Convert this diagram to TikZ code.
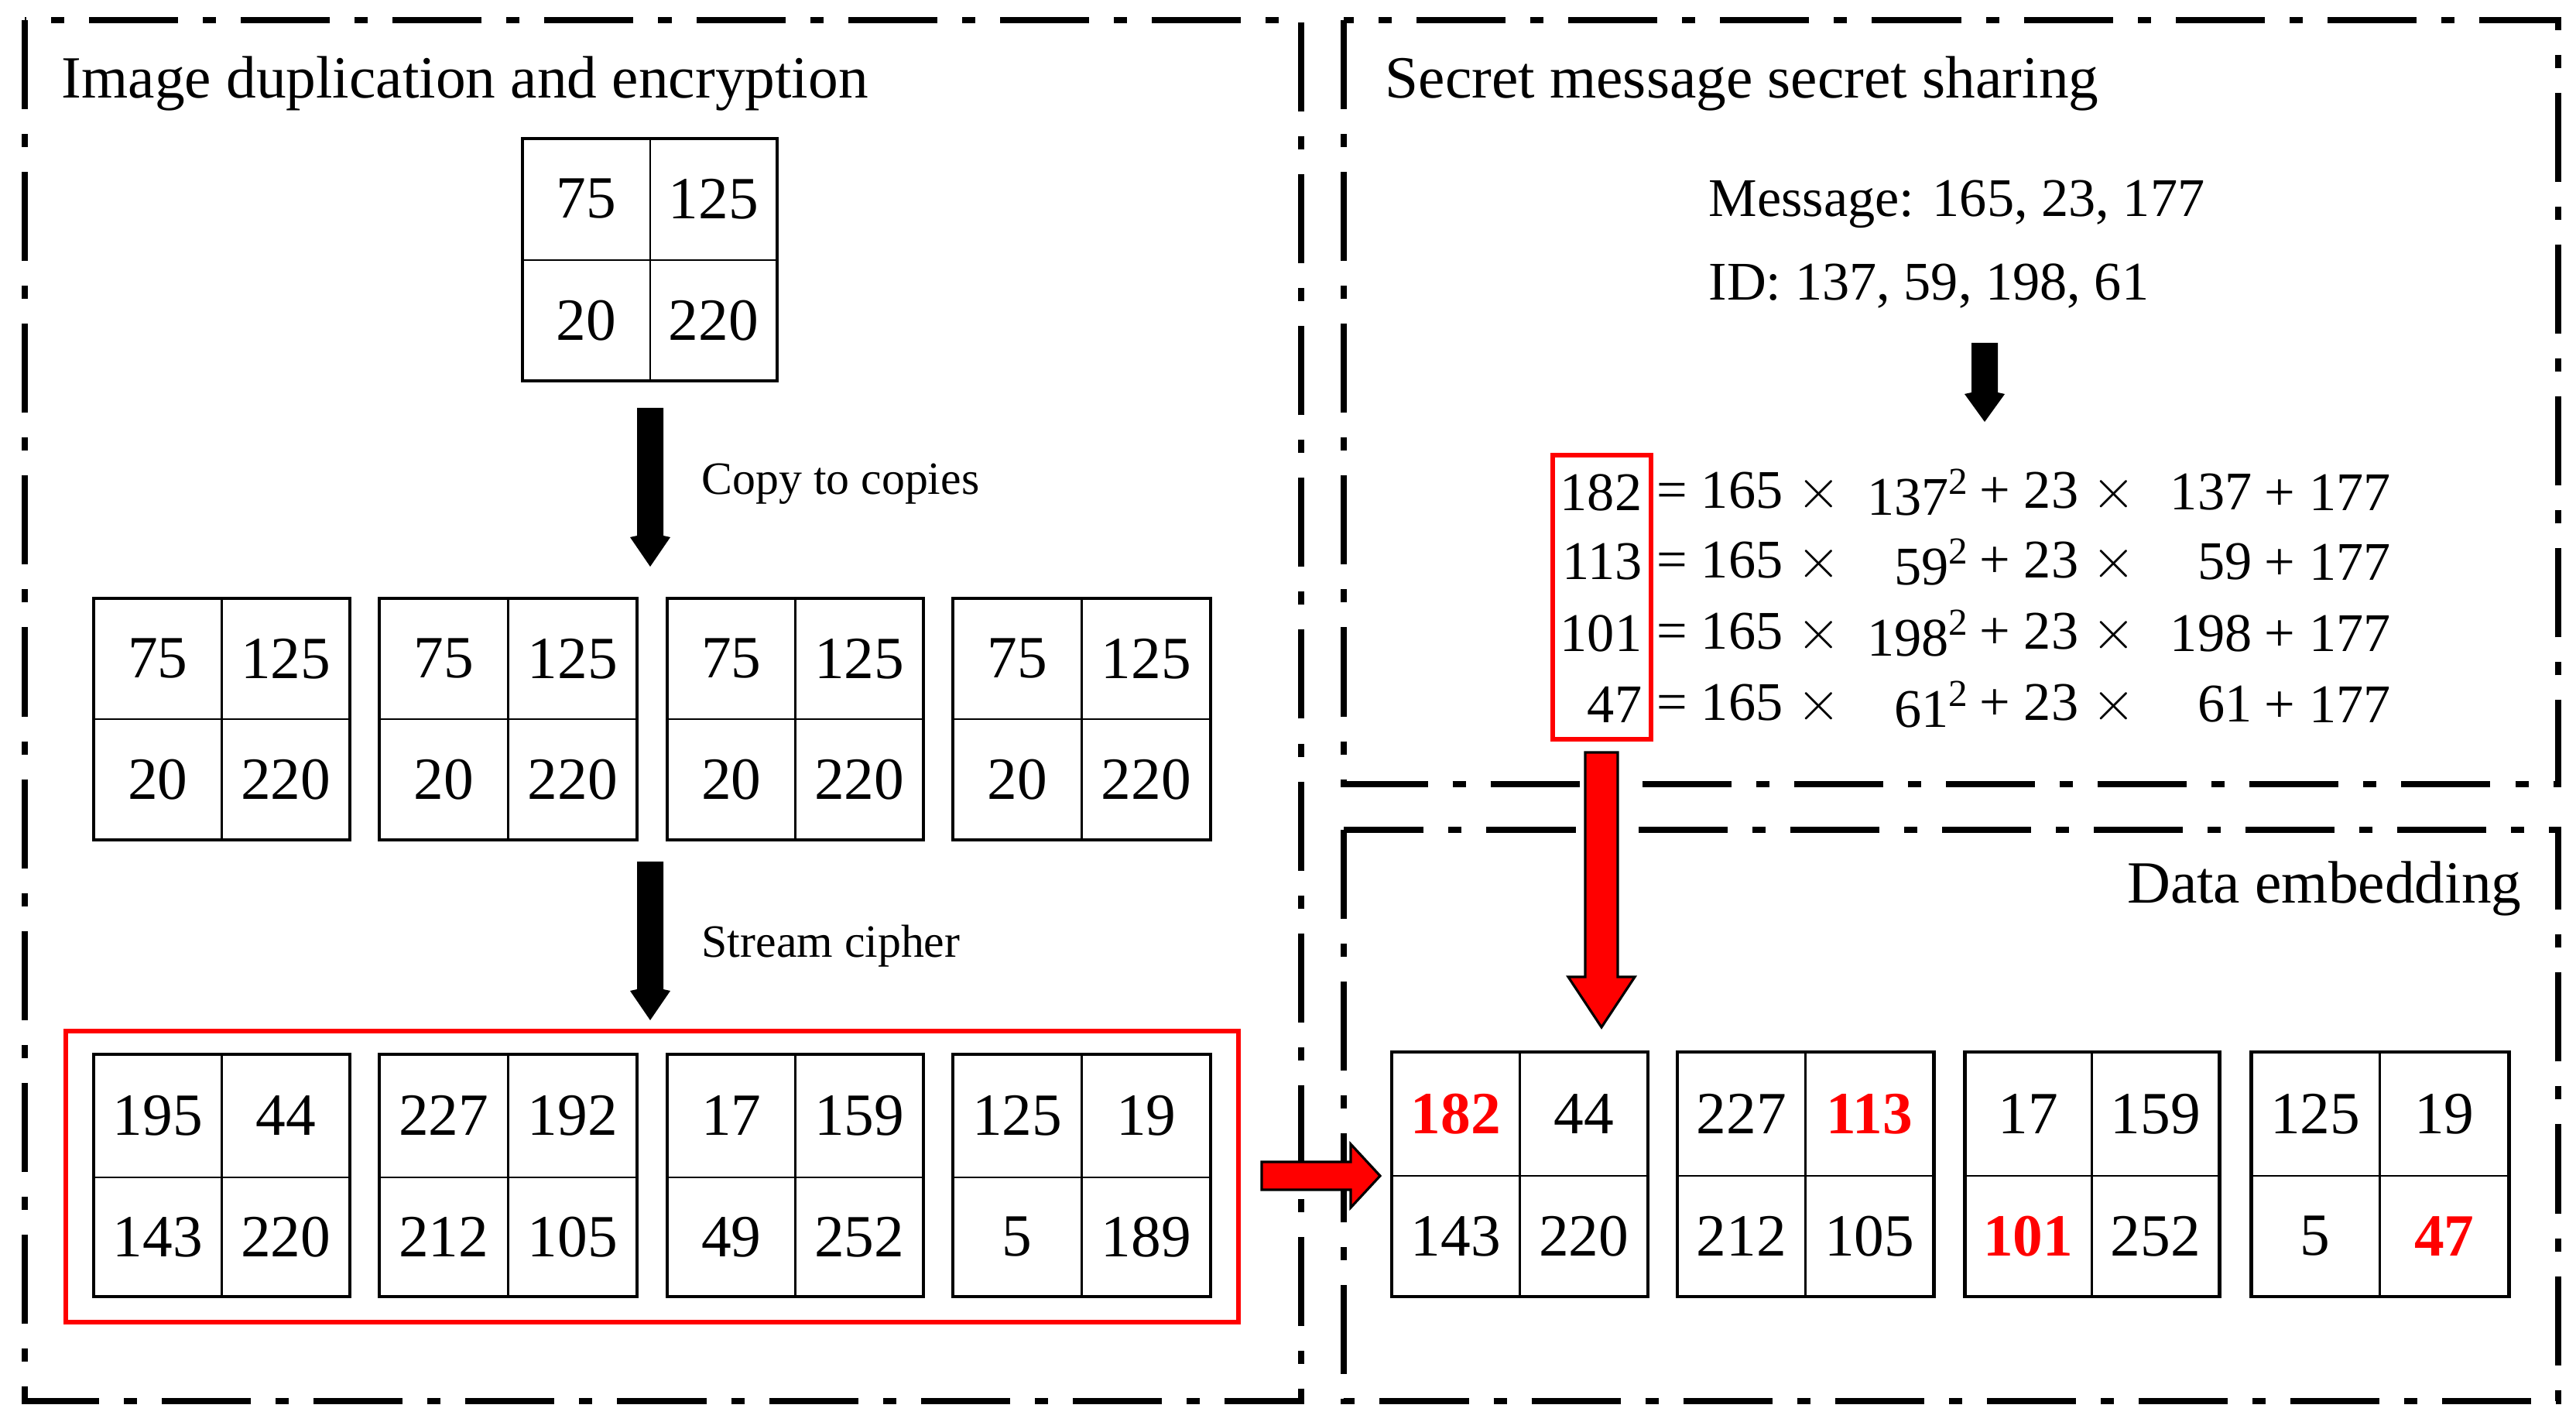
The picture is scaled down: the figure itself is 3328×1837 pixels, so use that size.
\documentclass[tikz,border=0pt]{standalone}
\usepackage{fontspec}
\setmainfont{Liberation Serif}
\begin{document}
\begin{tikzpicture}[x=0.01cm,y=-0.01cm,
  panel/.style={line width=2.2pt,dash pattern=on 1.15cm off 0.32cm on 0.17cm off 0.32cm},
  outer/.style={line width=1.4pt},
  inner/.style={line width=0.6pt},
  num/.style={font=\fontsize{22}{26}\selectfont,inner sep=0},
  title/.style={font=\fontsize{22}{26}\selectfont,inner sep=0,anchor=west},
  lab/.style={font=\fontsize{17}{20}\selectfont,inner sep=0,anchor=west},
  eq/.style={font=\fontsize{20}{24}\selectfont,inner sep=0},
  blackarrow/.style={fill=black},
  redarrow/.style={fill=red,draw=black,line width=0.9pt}]
\useasboundingbox (0,0) rectangle (3328,1837);
% panels
\draw[panel] (32,26) rectangle (1681,1810);
\draw[panel] (1736,26) rectangle (3305,1013);
\draw[panel] (1736,1072) rectangle (3305,1810);
\node[title] (t1) at (79,108) {Image duplication and encryption};
\node[title] (t2) at (1789,108) {Secret message secret sharing};
\node[title,anchor=east] (t3) at (3258,1148) {Data embedding};
% top grid
\draw[inner] (840,179) -- (840,492) (675,336) -- (1004,336);
\draw[outer] (675,179) rectangle (1004,492);
\node[num] (g0a) at (757,257) {75};
\node[num] (g0b) at (922,257) {125};
\node[num] (g0c) at (757,414) {20};
\node[num] (g0d) at (922,414) {220};
% copies
\foreach \i/\xa/\xb in {1/121/452,2/490/823,3/862/1193,4/1231/1564}{
  \draw[inner] ({(\xa+\xb)/2},773) -- ({(\xa+\xb)/2},1085) (\xa,929) -- (\xb,929);
  \draw[outer] (\xa,773) rectangle (\xb,1085);
  \node[num] (c\i a) at ({(3*\xa+\xb)/4},851) {75};
  \node[num] (c\i b) at ({(\xa+3*\xb)/4},851) {125};
  \node[num] (c\i c) at ({(3*\xa+\xb)/4},1007) {20};
  \node[num] (c\i d) at ({(\xa+3*\xb)/4},1007) {220};
}
% encrypted
\draw[red,line width=1.6pt] (85,1332) rectangle (1600,1708);
\foreach \i/\xa/\xb/\a/\b/\c/\d in {1/121/452/195/44/143/220,2/490/823/227/192/212/105,3/862/1193/17/159/49/252,4/1231/1564/125/19/5/189}{
  \draw[inner] ({(\xa+\xb)/2},1362) -- ({(\xa+\xb)/2},1675) (\xa,1521) -- (\xb,1521);
  \draw[outer] (\xa,1362) rectangle (\xb,1675);
  \node[num] (e\i a) at ({(3*\xa+\xb)/4},1441) {\a};
  \node[num] (e\i b) at ({(\xa+3*\xb)/4},1441) {\b};
  \node[num] (e\i c) at ({(3*\xa+\xb)/4},1598) {\c};
  \node[num] (e\i d) at ({(\xa+3*\xb)/4},1598) {\d};
}
% embedded
\foreach \i/\xa/\xb/\a/\b/\c/\d in {1/1798/2129/{\textcolor{red}{\textbf{182}}}/44/143/220,2/2167/2498/227/{\textcolor{red}{\textbf{113}}}/212/105,3/2538/2867/17/159/{\textcolor{red}{\textbf{101}}}/252,4/2908/3241/125/19/5/{\textcolor{red}{\textbf{47}}}}{
  \draw[inner] ({(\xa+\xb)/2},1359) -- ({(\xa+\xb)/2},1675) (\xa,1519) -- (\xb,1519);
  \draw[outer] (\xa,1359) rectangle (\xb,1675);
  \node[num] (f\i a) at ({(3*\xa+\xb)/4},1439) {\a};
  \node[num] (f\i b) at ({(\xa+3*\xb)/4},1439) {\b};
  \node[num] (f\i c) at ({(3*\xa+\xb)/4},1597) {\c};
  \node[num] (f\i d) at ({(\xa+3*\xb)/4},1597) {\d};
}
% black arrows
\foreach \ya/\yb in {527/732,1113/1318}{
  \fill[blackarrow] (823,\ya) -- (857,\ya) -- (857,{\yb-40}) -- (866,{\yb-38}) -- (840,\yb) -- (814,{\yb-38}) -- (823,{\yb-40}) -- cycle;
}
\node[lab] (l1) at (906,625) {Copy to copies};
\node[lab] (l2) at (906,1222) {Stream cipher};
\fill[blackarrow] (2547,443) -- (2581,443) -- (2581,507) -- (2590,509) -- (2564,545) -- (2538,509) -- (2547,507) -- cycle;
% message
\node[eq,anchor=west] (msg) at (2207,264) {Message: 165, 23, 177};
\node[eq,anchor=west] (id) at (2207,370) {ID: 137, 59, 198, 61};
% equations
\draw[red,line width=1.5pt] (2006,588) rectangle (2133,955);
\foreach \y/\s/\k in {636/182/137,726/113/59,818/101/198,910/47/61}{
  \node[eq,anchor=east] at (2122,\y) {\s};
  \node[eq,anchor=west] at (2140,\y) {= 165 $\times$};
  \node[eq,anchor=east] at (2545,\y) {\k\textsuperscript{2}};
  \node[eq,anchor=west] at (2557,\y) {+ 23 $\times$};
  \node[eq,anchor=east] at (2910,\y) {\k};
  \node[eq,anchor=west] at (2925,\y) {+ 177};
}
% red arrows
\draw[redarrow] (2048,972) -- (2090,972) -- (2090,1262) -- (2112,1262) -- (2069,1327) -- (2026,1262) -- (2048,1262) -- cycle;
\draw[redarrow] (1630,1501) -- (1745,1501) -- (1745,1478) -- (1783,1519) -- (1745,1560) -- (1745,1537) -- (1630,1537) -- cycle;
\end{tikzpicture}
\end{document}
